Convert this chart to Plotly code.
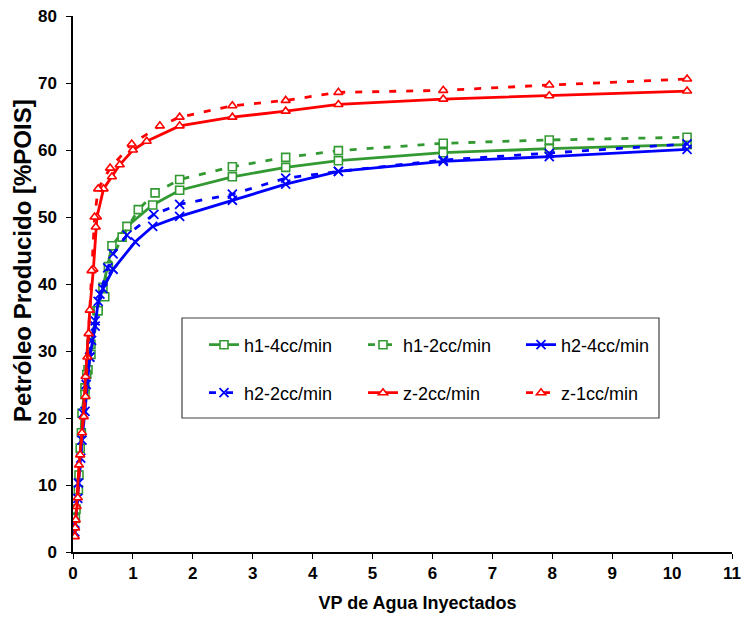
import plotly.graph_objects as go

# ---- data ----
h1_4_x = [0.05, 0.09, 0.12, 0.15, 0.20, 0.25, 0.30, 0.40, 0.50, 0.65, 0.90, 1.33, 1.78, 2.66, 3.55, 4.43, 6.18, 7.95, 10.25]
h1_4_y = [6.4, 9.3, 15.5, 20.7, 24.5, 27.2, 31.0, 36.0, 39.5, 45.7, 48.6, 51.8, 54.0, 56.0, 57.4, 58.4, 59.6, 60.2, 60.8]

h1_2_x = [0.04, 0.10, 0.14, 0.20, 0.23, 0.30, 0.42, 0.53, 0.59, 0.82, 1.09, 1.37, 1.78, 2.66, 3.55, 4.43, 6.18, 7.95, 10.25]
h1_2_y = [5.0, 11.5, 17.8, 23.5, 26.5, 29.5, 36.0, 38.1, 42.6, 47.0, 51.1, 53.6, 55.6, 57.5, 58.9, 59.9, 61.0, 61.5, 61.9]

h2_4_x = [0.03, 0.09, 0.15, 0.20, 0.28, 0.37, 0.42, 0.50, 0.67, 1.04, 1.33, 1.78, 2.66, 3.55, 4.43, 6.18, 7.95, 10.25]
h2_4_y = [3.0, 10.3, 16.7, 21.0, 29.1, 33.7, 37.4, 39.3, 42.2, 46.3, 48.6, 50.1, 52.5, 54.9, 56.8, 58.3, 59.0, 60.1]

h2_2_x = [0.03, 0.08, 0.13, 0.17, 0.22, 0.28, 0.31, 0.37, 0.45, 0.58, 0.67, 0.90, 1.35, 1.78, 2.66, 3.55, 4.43, 6.18, 7.95, 10.25]
h2_2_y = [4.3, 8.0, 14.0, 20.7, 25.0, 29.1, 31.6, 34.5, 38.5, 42.4, 44.5, 47.3, 50.4, 51.9, 53.4, 55.8, 56.8, 58.5, 59.5, 60.9]

z_2_x = [0.03, 0.06, 0.10, 0.15, 0.21, 0.24, 0.28, 0.34, 0.38, 0.40, 0.51, 0.65, 0.78, 1.00, 1.23, 1.78, 2.66, 3.55, 4.43, 6.18, 7.95, 10.25]
z_2_y = [2.3, 6.8, 13.0, 17.8, 26.2, 29.1, 36.1, 42.2, 48.5, 50.0, 54.2, 56.0, 57.8, 60.0, 61.3, 63.6, 64.9, 65.8, 66.8, 67.6, 68.1, 68.8]

z_1_x = [0.035, 0.045, 0.08, 0.12, 0.18, 0.21, 0.26, 0.31, 0.36, 0.42, 0.62, 0.98, 1.45, 1.78, 2.66, 3.55, 4.43, 6.18, 7.95, 10.25]
z_1_y = [3.6, 4.8, 8.1, 14.5, 20.2, 23.2, 32.6, 42.0, 50.0, 54.2, 57.3, 60.9, 63.6, 64.9, 66.6, 67.4, 68.6, 68.9, 69.7, 70.6]

x_ticks = list(range(0, 12))
y_ticks = list(range(0, 90, 10))

GREEN = "#339933"
BLUE = "#0000FF"
RED = "#FF0000"
DASH = "7px,10px"

series = [
    ("h1-4cc/min", h1_4_x, h1_4_y, GREEN, "solid", "square", "legend"),
    ("h1-2cc/min", h1_2_x, h1_2_y, GREEN, DASH, "square", "legend2"),
    ("h2-4cc/min", h2_4_x, h2_4_y, BLUE, "solid", "x-thin", "legend3"),
    ("h2-2cc/min", h2_2_x, h2_2_y, BLUE, DASH, "x-thin", "legend4"),
    ("z-2cc/min", z_2_x, z_2_y, RED, "solid", "triangle-up", "legend5"),
    ("z-1cc/min", z_1_x, z_1_y, RED, DASH, "triangle-up", "legend6"),
]

fig = go.Figure()
for name, xs, ys, col, dash, sym, leg in series:
    if sym == "x-thin":
        marker = dict(symbol=sym, size=9, color=col, line=dict(color=col, width=1.8))
    else:
        marker = dict(symbol=sym, size=8, color="white", line=dict(color=col, width=1.6))
    fig.add_trace(go.Scatter(
        x=xs, y=ys, name=name, mode="lines+markers",
        line=dict(color=col, width=2.8, dash=dash),
        marker=marker, legend=leg,
    ))

W, H = 747, 619
L, R, T, B = 73, 15, 16, 67
pw, ph = W - L - R, H - T - B

def px2paper_x(px):
    return (px - L) / pw

def px2paper_y(py):
    return (H - B - py) / ph

legend_font = dict(family="Liberation Sans, Arial", size=18, color="black")
text_starts = [249, 408, 566]
rows = [345, 393]
leg_names = ["legend", "legend2", "legend3", "legend4", "legend5", "legend6"]
layout_legends = {}
for i, ln in enumerate(leg_names):
    r, c = divmod(i, 3)
    layout_legends[ln] = dict(
        x=px2paper_x(text_starts[c] - 45), y=px2paper_y(rows[r]),
        xanchor="left", yanchor="middle",
        bgcolor="rgba(0,0,0,0)", borderwidth=0,
        font=legend_font, orientation="h",
    )

NB = "&nbsp;"
fig.update_layout(
    width=W, height=H,
    margin=dict(l=L, r=R, t=T, b=B, autoexpand=False),
    paper_bgcolor="white", plot_bgcolor="white",
    showlegend=True,
    **layout_legends,
    xaxis=dict(
        range=[0, 11], tickvals=x_ticks, ticktext=[str(v) for v in x_ticks],
        automargin=False,
        showgrid=False, zeroline=False, showline=True, linecolor="black", linewidth=1.5,
        ticks="outside", ticklen=5, tickwidth=1.2, tickcolor="black",
        tickfont=dict(family="Liberation Sans, Arial", size=17, color="black", weight="bold"),
        title=dict(text=NB * 6 + "<b>VP de Agua Inyectados</b>", standoff=14,
                   font=dict(family="Liberation Sans, Arial", size=18, color="black")),
    ),
    yaxis=dict(
        range=[0, 80], tickvals=y_ticks, ticktext=[str(v) for v in y_ticks],
        automargin=False,
        showgrid=False, zeroline=False, showline=True, linecolor="black", linewidth=1.5,
        ticks="outside", ticklen=5, tickwidth=1.2, tickcolor="black",
        ticklabelstandoff=6,
        tickfont=dict(family="Liberation Sans, Arial", size=17, color="black", weight="bold"),
        title=dict(text=NB * 7 + "<b>Petróleo Producido [%POIS]</b>", standoff=0,
                   font=dict(family="Liberation Sans, Arial", size=24, color="black")),
    ),
    shapes=[dict(
        type="rect", xref="paper", yref="paper",
        x0=px2paper_x(182), x1=px2paper_x(659), y0=px2paper_y(418), y1=px2paper_y(318),
        line=dict(color="#404040", width=1.2), fillcolor="white", layer="below",
    )],
)

fig.write_html(
    "out.html",
    config={"displayModeBar": False},
    post_script="document.body.style.margin='0';document.body.style.padding='0';document.body.style.overflow='hidden';",
)
